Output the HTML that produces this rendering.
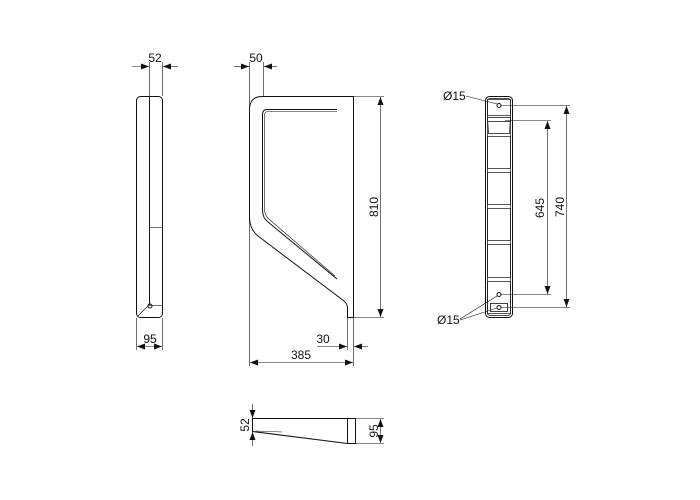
<!DOCTYPE html>
<html><head><style>
html,body{margin:0;padding:0;background:#fff;}
svg{display:block;}
text{font-family:"Liberation Sans",sans-serif;font-size:12px;fill:#111;}
</style></head><body>
<svg width="700" height="500" viewBox="0 0 700 500" xmlns="http://www.w3.org/2000/svg">
<defs>
<marker id="a" markerWidth="8" markerHeight="6" refX="8" refY="3" orient="auto-start-reverse" markerUnits="userSpaceOnUse"><path d="M0,0 L8,3 L0,6 z" fill="#111"/></marker>
</defs>
<g fill="none" stroke="#111" stroke-width="1">
<rect x="136.5" y="96.5" width="26" height="221" rx="4"/>
<line x1="149.5" y1="97" x2="149.5" y2="305"/>
<line x1="149" y1="227.5" x2="162" y2="227.5" stroke-width="0.6"/>
<line x1="149" y1="305.5" x2="162" y2="305.5" stroke-width="0.6"/>
<line x1="149" y1="305" x2="138" y2="316" stroke-width="0.6"/>
<circle cx="150" cy="306" r="2"/>
<g stroke-width="0.6">
<line x1="149.5" y1="62" x2="149.5" y2="96"/><line x1="162.5" y1="62" x2="162.5" y2="96"/>
<line x1="132" y1="66.5" x2="149" y2="66.5" marker-end="url(#a)"/>
<line x1="178" y1="66.5" x2="163" y2="66.5" marker-end="url(#a)"/>
<line x1="136.5" y1="318" x2="136.5" y2="350"/><line x1="162.5" y1="318" x2="162.5" y2="350"/>
<line x1="137" y1="346.5" x2="162" y2="346.5" marker-start="url(#a)" marker-end="url(#a)"/>
</g>
<path d="M262,96.5 L353.5,96.5 L353.5,317.5 L347.5,317.5 L347.5,308 Q347.5,304 344,301 L258,236 Q249.5,229 249.5,217 L249.5,110 Q249.5,96.5 262,96.5 Z"/>
<path d="M337,109.5 L267,109.5 Q262.5,109.5 262.5,115 L262.5,210 Q262.5,218 268,222 L337,279"/>
<path d="M337,111.5 L268,111.5 Q264.5,111.5 264.5,116 L264.5,209 Q264.5,216 270,220 L335,276" stroke-width="0.6"/>
<g stroke-width="0.6">
<line x1="249.5" y1="62" x2="249.5" y2="366"/><line x1="263.5" y1="62" x2="263.5" y2="96"/>
<line x1="234" y1="66.5" x2="249" y2="66.5" marker-end="url(#a)"/>
<line x1="277" y1="66.5" x2="264" y2="66.5" marker-end="url(#a)"/>
<line x1="354" y1="96.5" x2="384" y2="96.5"/><line x1="354" y1="317.5" x2="384" y2="317.5"/>
<line x1="380.5" y1="97" x2="380.5" y2="317" marker-start="url(#a)" marker-end="url(#a)"/>
<line x1="347.5" y1="318" x2="347.5" y2="350"/><line x1="353.5" y1="318" x2="353.5" y2="366"/>
<line x1="317" y1="346.5" x2="347" y2="346.5" marker-end="url(#a)"/>
<line x1="368" y1="346.5" x2="354" y2="346.5" marker-end="url(#a)"/>
<line x1="250" y1="362.5" x2="353" y2="362.5" marker-start="url(#a)" marker-end="url(#a)"/>
</g>
<rect x="485.5" y="96.5" width="27" height="221" rx="4"/>
<rect x="487.5" y="98.5" width="23" height="217" rx="2.5" stroke-width="0.7"/>
<rect x="487.5" y="99.5" width="23" height="16" stroke-width="0.7"/>
<path d="M487.5,117.5 L510.5,117.5 L509.5,133.5 L488.5,133.5 Z" stroke-width="0.7"/>
<line x1="488" y1="121.5" x2="510" y2="121.5" stroke-width="0.7"/>
<rect x="487.5" y="136.5" width="23" height="32" stroke-width="0.7"/>
<rect x="487.5" y="172.5" width="23" height="32" stroke-width="0.7"/>
<rect x="487.5" y="208.5" width="23" height="32" stroke-width="0.7"/>
<rect x="487.5" y="244.5" width="23" height="33" stroke-width="0.7"/>
<rect x="487.5" y="281.5" width="23" height="32" stroke-width="0.7"/>
<rect x="490.5" y="303.5" width="17" height="8" stroke-width="0.8"/>
<circle cx="499" cy="105.5" r="2"/>
<circle cx="499" cy="294.5" r="2"/>
<circle cx="499" cy="307.5" r="2"/>
<g stroke-width="0.6">
<line x1="501" y1="105.5" x2="570" y2="105.5"/>
<line x1="505" y1="120.5" x2="551" y2="120.5"/>
<line x1="501" y1="294.5" x2="551" y2="294.5"/>
<line x1="501" y1="307.5" x2="570" y2="307.5"/>
<line x1="566.5" y1="106" x2="566.5" y2="307" marker-start="url(#a)" marker-end="url(#a)"/>
<line x1="547.5" y1="121" x2="547.5" y2="294" marker-start="url(#a)" marker-end="url(#a)"/>
<line x1="466" y1="96" x2="497" y2="104"/>
<line x1="460" y1="319" x2="497" y2="296"/>
<line x1="460" y1="320" x2="497" y2="308"/>
</g>
<path d="M252.5,418.5 L355.5,418.5 L355.5,443.5 L347.5,443.5 L252.5,431.5 Z"/>
<line x1="347.5" y1="418.5" x2="347.5" y2="443.5"/>
<line x1="256" y1="431" x2="282" y2="432" stroke-width="0.5"/>
<g stroke-width="0.6">
<line x1="252.5" y1="404" x2="252.5" y2="418" marker-end="url(#a)"/>
<line x1="252.5" y1="446" x2="252.5" y2="432" marker-end="url(#a)"/>
<line x1="356" y1="418.5" x2="384" y2="418.5"/>
<line x1="356" y1="443.5" x2="384" y2="443.5"/>
<line x1="380.5" y1="419" x2="380.5" y2="443" marker-start="url(#a)" marker-end="url(#a)"/>
</g>
</g>
<text x="155" y="62" text-anchor="middle">52</text>
<text x="150" y="343" text-anchor="middle">95</text>
<text x="256" y="62" text-anchor="middle">50</text>
<text x="323" y="343" text-anchor="middle">30</text>
<text x="301" y="359" text-anchor="middle">385</text>
<text transform="translate(378,207) rotate(-90)" text-anchor="middle">810</text>
<text transform="translate(544,208) rotate(-90)" text-anchor="middle">645</text>
<text transform="translate(564,207) rotate(-90)" text-anchor="middle">740</text>
<text x="443" y="100">Ø15</text>
<text x="437" y="324">Ø15</text>
<text transform="translate(249,425) rotate(-90)" text-anchor="middle">52</text>
<text transform="translate(378,431) rotate(-90)" text-anchor="middle">95</text>
</svg>
</body></html>
